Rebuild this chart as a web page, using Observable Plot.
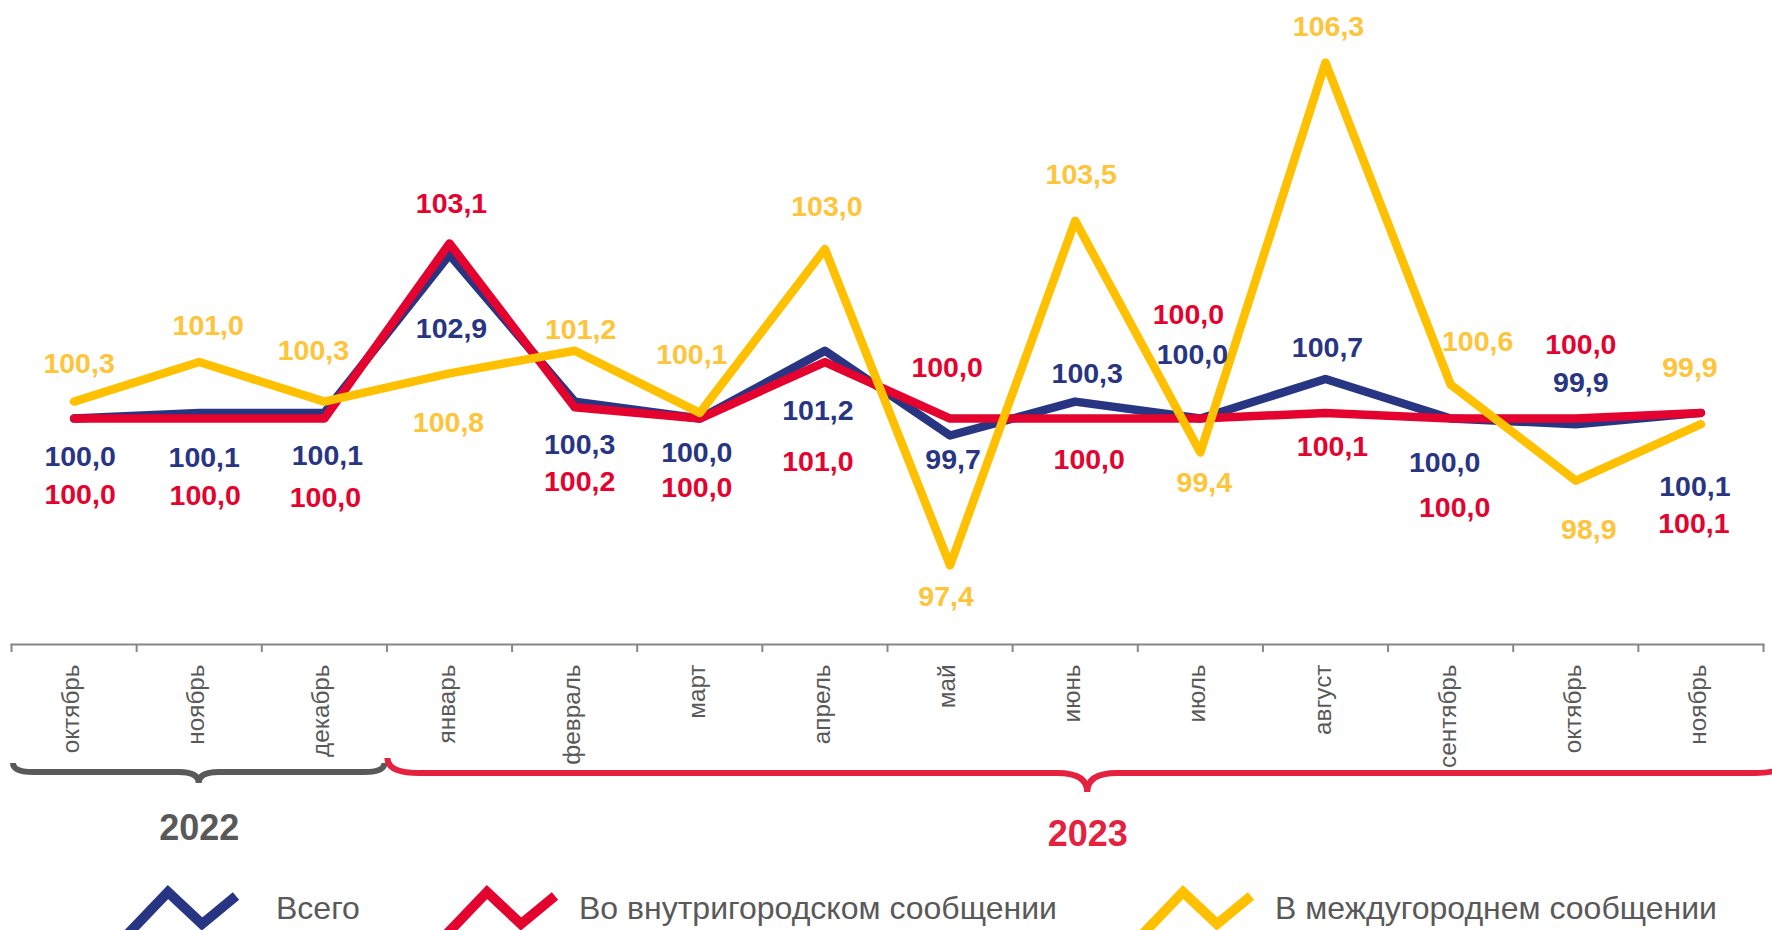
<!DOCTYPE html>
<html><head><meta charset="utf-8">
<script src="https://cdn.jsdelivr.net/npm/d3@7"></script>
<script src="https://cdn.jsdelivr.net/npm/@observablehq/plot@0.6"></script>
<style>
html,body{margin:0;padding:0;background:#fff;overflow:hidden;}
#chart svg{display:block;}
</style></head><body><div id="chart"></div><div id="legend"></div><script>
// ---- data ----
const months = ["октябрь","ноябрь","декабрь","январь","февраль","март","апрель","май","июнь","июль","август","сентябрь","октябрь","ноябрь"];
const total     = [100.0,100.1,100.1,102.9,100.3,100.0,101.2, 99.7,100.3,100.0,100.7,100.0, 99.9,100.1];
const urban     = [100.0,100.0,100.0,103.1,100.2,100.0,101.0,100.0,100.0,100.0,100.1,100.0,100.0,100.1];
const intercity = [100.3,101.0,100.3,100.8,101.2,100.1,103.0, 97.4,103.5, 99.4,106.3,100.6, 98.9, 99.9];
const seriesNames = ["Всего","Во внутригородском сообщении","В междугороднем сообщении"];
const years = [{label:"2022", from:-0.5, to:2.5}, {label:"2023", from:2.5, to:13.7}];

// ---- layout / style (not data) ----
const labelOffsets = {
  total:     [[6,38],[5,45],[3,43],[2,74],[5,43],[-3,34],[-7,60],[3,24],[12,-28],[-8,-64],[2,-31],[-6,44],[5,-41],[-6,74]],
  urban:     [[6,76],[6,77],[1,79],[2,-40],[5,75],[-3,69],[-7,100],[-3,-51],[14,41],[-12,-104],[7,34],[4,89],[5,-74],[-7,111]],
  intercity: [[5,-38],[9,-36],[-11,-51],[-1,50],[6,-21],[-8,-58],[2,-42],[-4,31],[6,-46],[4,30],[3,-36],[27,-43],[13,49],[-11,-56]]
};
const series = [
  {key:"total", stroke:"#283583", text:"#283583"},
  {key:"urban", stroke:"#e4032e", text:"#e4032e"},
  {key:"intercity", stroke:"#ffc000", text:"#fec43a"}
];
const yearStyle = [
  {color:"#595959", dy:195, brace:{end:119, line:128, tip:139, rEnd:20, rTip:20, inset:2}},
  {color:"#e4213f", dy:201, brace:{end:114, line:129, tip:148, rEnd:32, rTip:30, inset:1}}
];
const font = "'Liberation Sans', Arial, sans-serif";

const rows = months.map((m,i)=>({i, m, total: total[i], urban: urban[i], intercity: intercity[i]}));
const boundaries = d3.range(-0.5, months.length, 1);
const fmt = v => v.toFixed(1).replace(".", ",");

function braceMark(index, scales, values, dimensions) {
  const x = scales.x;
  const base = dimensions.height - dimensions.marginBottom;
  const g = d3.create("svg:g").attr("fill","none");
  years.forEach((yr, k) => {
    const s = yearStyle[k].brace;
    const x0 = x(yr.from) + s.inset, x1 = x(yr.to) - s.inset, xm = (x0 + x1) / 2;
    const yE = base + s.end, yL = base + s.line, yT = base + s.tip;
    const p = d3.path();
    p.moveTo(x0, yE);
    p.quadraticCurveTo(x0, yL, x0 + s.rEnd, yL);
    p.lineTo(xm - s.rTip, yL);
    p.quadraticCurveTo(xm, yL, xm, yT);
    p.quadraticCurveTo(xm, yL, xm + s.rTip, yL);
    p.lineTo(x1 - s.rEnd, yL);
    p.quadraticCurveTo(x1, yL, x1, yE);
    g.append("path").attr("d", p.toString()).attr("stroke", yearStyle[k].color)
      .attr("stroke-width", 6).attr("stroke-linecap","butt");
  });
  return g.node();
}

const marks = [
  Plot.frame({anchor:"bottom", stroke:"#878787", strokeWidth:2}),
  Plot.axisX({ticks: boundaries, tickSize: 8, tickFormat: () => "", stroke:"#878787", strokeWidth:2, label:null}),
  Plot.text(rows, {x:"i", text:"m", frameAnchor:"bottom", rotate:-90, textAnchor:"end", dx:5, dy:20,
                   fontSize:24.3, fill:"#595959", fontFamily:font}),
  braceMark,
  ...years.map((yr,k) => Plot.text([yr], {x: d => (d.from + d.to)/2, text:"label", frameAnchor:"bottom",
                   lineAnchor:"bottom", dy: yearStyle[k].dy, fill: yearStyle[k].color,
                   fontSize:36, fontWeight:"bold", fontFamily:font})),
  ...series.map(s => Plot.line(rows, {x:"i", y:s.key, stroke:s.stroke, strokeWidth:8.5,
                   strokeLinecap:"round", strokeLinejoin:"round"})),
  ...series.flatMap(s => rows.map((r,i) => Plot.text([r], {x:"i", y:s.key, text: d => fmt(d[s.key]),
                   dx: labelOffsets[s.key][i][0], dy: labelOffsets[s.key][i][1],
                   fill:s.text, fontSize:28.5, fontWeight:"bold", fontFamily:font})))
];

const chart = Plot.plot({
  width:1772, height:860,
  marginLeft:11, marginRight:9, marginTop:0, marginBottom:216,
  x:{type:"linear", domain:[-0.5, 13.5], label:null},
  y:{domain:[96, 107.4], axis:null},
  style:{fontFamily:font, background:"white", overflow:"hidden"},
  marks
});
document.getElementById("chart").appendChild(chart);

// ---- legend (below the chart) ----
const legendPos = [{icon:128, text:276}, {icon:447, text:579}, {icon:1143, text:1275}];
const leg = d3.select("#legend").append("svg").attr("width",1772).attr("height",70)
  .style("display","block").style("font-family", font);
series.forEach((s,k) => {
  const L = legendPos[k].icon;
  leg.append("polyline")
    .attr("points", [[L-3,77],[L+40,32],[L+74,64],[L+108,36]].map(p=>p.join(",")).join(" "))
    .attr("fill","none").attr("stroke", s.stroke).attr("stroke-width",10).attr("stroke-linejoin","miter");
  leg.append("text").attr("x", legendPos[k].text).attr("y", 59)
    .attr("font-size", 32).attr("fill","#595959").text(seriesNames[k]);
});
</script></body></html>
